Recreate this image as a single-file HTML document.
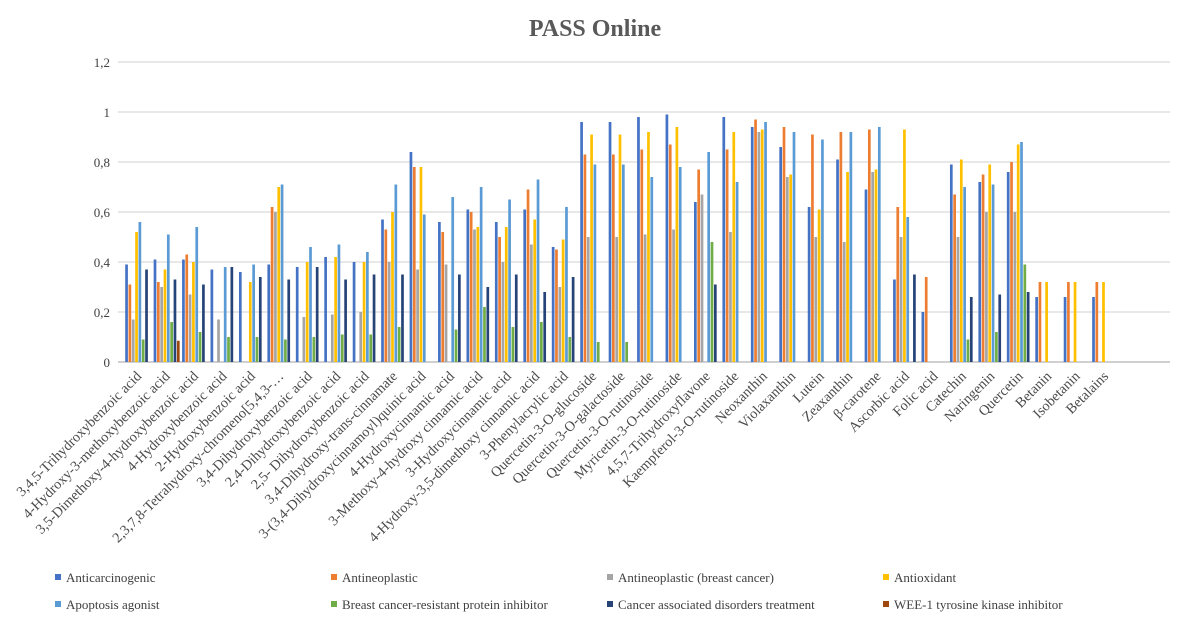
<!DOCTYPE html>
<html><head><meta charset="utf-8">
<style>
body{margin:0;background:#fff;}
svg{display:block;font-family:"Liberation Serif",serif;}
</style></head>
<body>
<svg id="chart" width="1185" height="619" viewBox="0 0 1185 619" xmlns="http://www.w3.org/2000/svg">
<rect width="1185" height="619" fill="#fff"/>
<text x="595" y="36" text-anchor="middle" font-size="24" font-weight="bold" fill="#595959">PASS Online</text>
<g id="grid"></g><g id="bars"></g><g id="xlabels"></g><g id="legend"></g>
</svg>
<script>
const categories=["3,4,5-Trihydroxybenzoic acid","4-Hydroxy-3-methoxybenzoic acid","3,5-Dimethoxy-4-hydroxybenzoic acid","4-Hydroxybenzoic acid","2-Hydroxybenzoic acid","2,3,7,8-Tetrahydroxy-chromeno[5,4,3-…","3,4-Dihydroxybenzoic acid","2,4-Dihydroxybenzoic acid","2,5- Dihydroxybenzoic acid","3,4-Dihydroxy-trans-cinnamate","3-(3,4-Dihydroxycinnamoyl)quinic acid","4-Hydroxycinnamic acid","3-Methoxy-4-hydroxy cinnamic acid","3-Hydroxycinnamic acid","4-Hydroxy-3,5-dimethoxy cinnamic acid","3-Phenylacrylic acid","Quercetin-3-O-glucoside","Quercetin-3-O-galactoside","Quercetin-3-O-rutinoside","Myricetin-3-O-rutinoside","4,5,7-Trihydroxyflavone","Kaempferol-3-O-rutinoside","Neoxanthin","Violaxanthin","Lutein","Zeaxanthin","β-carotene","Ascorbic acid","Folic acid","Catechin","Naringenin","Quercetin","Betanin","Isobetanin","Betalains"];
const seriesNames=["Anticarcinogenic","Antineoplastic","Antineoplastic (breast cancer)","Antioxidant","Apoptosis agonist","Breast cancer-resistant protein inhibitor","Cancer associated disorders treatment","WEE-1 tyrosine kinase inhibitor"];
const anticarcinogenic=[0.39,0.41,0.41,0.37,0.36,0.39,0.38,0.42,0.40,0.57,0.84,0.56,0.61,0.56,0.61,0.46,0.96,0.96,0.98,0.99,0.64,0.98,0.94,0.86,0.62,0.81,0.69,0.33,0.20,0.79,0.72,0.76,0.26,0.26,0.26];
const antineoplastic=[0.31,0.32,0.43,0,0,0.62,0,0,0,0.53,0.78,0.52,0.60,0.50,0.69,0.45,0.83,0.83,0.85,0.87,0.77,0.85,0.97,0.94,0.91,0.92,0.93,0.62,0.34,0.67,0.75,0.80,0.32,0.32,0.32];
const antineoBreast=[0.17,0.30,0.27,0.17,0,0.60,0.18,0.19,0.20,0.40,0.37,0.39,0.53,0.40,0.47,0.30,0.50,0.50,0.51,0.53,0.67,0.52,0.92,0.74,0.50,0.48,0.76,0.50,0,0.50,0.60,0.60,0,0,0];
const antioxidant=[0.52,0.37,0.40,0,0.32,0.70,0.40,0.42,0.40,0.60,0.78,0,0.54,0.54,0.57,0.49,0.91,0.91,0.92,0.94,0,0.92,0.93,0.75,0.61,0.76,0.77,0.93,0,0.81,0.79,0.87,0.32,0.32,0.32];
const apoptosis=[0.56,0.51,0.54,0.38,0.39,0.71,0.46,0.47,0.44,0.71,0.59,0.66,0.70,0.65,0.73,0.62,0.79,0.79,0.74,0.78,0.84,0.72,0.96,0.92,0.89,0.92,0.94,0.58,0,0.70,0.71,0.88,0,0,0];
const bcrpInhibitor=[0.09,0.16,0.12,0.10,0.10,0.09,0.10,0.11,0.11,0.14,0,0.13,0.22,0.14,0.16,0.10,0.08,0.08,0,0,0.48,0,0,0,0,0,0,0,0,0.09,0.12,0.39,0,0,0];
const cancerDisorders=[0.37,0.33,0.31,0.38,0.34,0.33,0.38,0.33,0.35,0.35,0,0.35,0.30,0.35,0.28,0.34,0,0,0,0,0.31,0,0,0,0,0,0,0.35,0,0.26,0.27,0.28,0,0,0];
const wee1=[0,0.085,0,0,0,0,0,0,0,0,0,0,0,0,0,0,0,0,0,0,0,0,0,0,0,0,0,0,0,0,0,0,0,0,0];
const yTicks=["0","0,2","0,4","0,6","0,8","1","1,2"];
const yTickValues=[0,0.2,0.4,0.6,0.8,1,1.2];

const series=[anticarcinogenic,antineoplastic,antineoBreast,antioxidant,apoptosis,bcrpInhibitor,cancerDisorders,wee1];
const colors=["#4472C4","#ED7D31","#A5A5A5","#FFC000","#5B9BD5","#70AD47","#264478","#9E480E"];
const NS="http://www.w3.org/2000/svg";
const y0=362, pxPerUnit=250, catW=28.44, x0=125.2, barPitch=3.33, barW=2.7;
function yScale(v){return y0-v*pxPerUnit;}
function xBar(i,j){return x0+i*catW+j*barPitch;}
function xCenter(i){return x0+i*catW+13.0;}
function mk(tag,attrs,parent){const e=document.createElementNS(NS,tag);for(const k in attrs)e.setAttribute(k,attrs[k]);parent.appendChild(e);return e;}

const grid=document.getElementById('grid');
yTickValues.forEach((v,k)=>{
  const l=mk('line',{x1:118,x2:1170,y1:yScale(v),y2:yScale(v),stroke:v===0?'#d0d0d0':'#d9d9d9','stroke-width':v===0?2:1.3},grid);
  
  
  const t=mk('text',{x:110,y:yScale(v)+5,'text-anchor':'end','font-size':13,fill:'#404040'},grid);
  t.textContent=yTicks[k];
  
  
});

const bars=document.getElementById('bars');
series.forEach((arr,j)=>{
  arr.forEach((v,i)=>{
    if(v<=0)return;
    const r=mk('rect',{x:xBar(i,j),y:yScale(v),width:barW,height:v*pxPerUnit,fill:colors[j]},bars);
    
    
  });
});

const xl=document.getElementById('xlabels');
categories.forEach((c,i)=>{
  const cx=xCenter(i)+4, cy=377;
  const t=mk('text',{x:cx,y:cy,'text-anchor':'end','font-size':14.3,fill:'#4a4a4a',transform:`rotate(-45 ${cx} ${cy})`},xl);
  t.textContent=c;
  
  
});

const lg=document.getElementById('legend');
const colX=[55,331,607,883];
seriesNames.forEach((n,j)=>{
  const x=colX[j%4], y=j<4?578:605;
  const g=mk('g',{},lg);
  
  
  mk('rect',{x:x,y:y-4,width:6,height:6,fill:colors[j]},g);
  const t=mk('text',{x:x+11,y:y+4,'font-size':13,fill:'#404040'},g);
  t.textContent=n;
});
</script>
</body></html>
